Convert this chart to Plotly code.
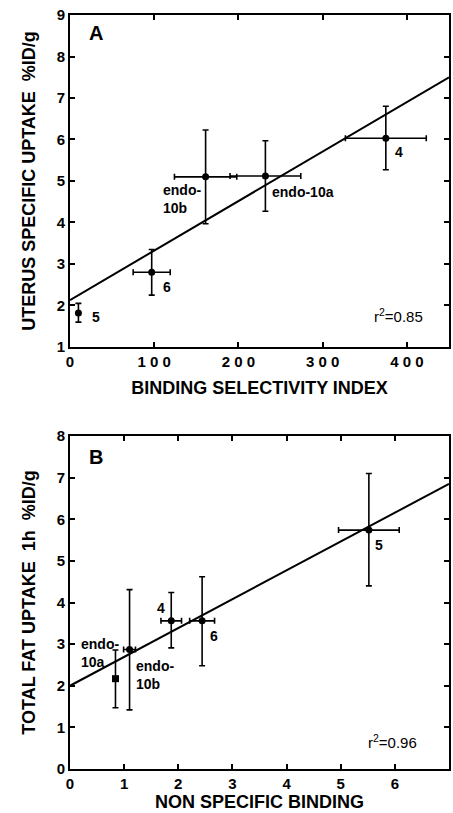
import plotly.graph_objects as go
from plotly.subplots import make_subplots

# ---- Panel A data ----
a_labels = ["5", "6", "endo-10b", "endo-10a", "4"]
a_x = [10, 97, 161, 232, 375]
a_y = [1.82, 2.80, 5.10, 5.12, 6.03]
a_x_err = [0, 22, 37, 42, 48]
a_y_plus = [0.23, 0.55, 1.13, 0.85, 0.77]
a_y_minus = [0.22, 0.55, 1.13, 0.85, 0.76]
a_line_x = [0, 450]
a_intercept, a_slope = 2.13, 0.01193
a_xticks = [0, 100, 200, 300, 400]
a_xticktext = ["0", "1 0 0", "2 0 0", "3 0 0", "4 0 0"]

# ---- Panel B data ----
b_labels = ["endo-10a", "endo-10b", "4", "6", "5"]
b_x = [0.84, 1.10, 1.87, 2.44, 5.52]
b_y = [2.17, 2.87, 3.56, 3.56, 5.74]
b_x_err = [0.0, 0.11, 0.19, 0.23, 0.56]
b_y_plus = [0.69, 1.44, 0.68, 1.06, 1.36]
b_y_minus = [0.70, 1.45, 0.65, 1.08, 1.34]
b_line_x = [0, 7]
b_intercept, b_slope = 2.0, 0.693

FONT = "Liberation Sans"

fig = make_subplots(rows=2, cols=1, vertical_spacing=0.118)

err_style = dict(type="data", color="black", thickness=1.6, width=3)

fig.add_trace(go.Scatter(
    x=a_line_x, y=[a_intercept + a_slope * v for v in a_line_x],
    mode="lines", line=dict(color="black", width=2), showlegend=False), row=1, col=1)
fig.add_trace(go.Scatter(
    x=a_x, y=a_y, mode="markers",
    marker=dict(color="black", size=7, symbol="circle"),
    error_x=dict(array=a_x_err, **err_style),
    error_y=dict(array=a_y_plus, arrayminus=a_y_minus, **err_style),
    showlegend=False), row=1, col=1)

fig.add_trace(go.Scatter(
    x=b_line_x, y=[b_intercept + b_slope * v for v in b_line_x],
    mode="lines", line=dict(color="black", width=2), showlegend=False), row=2, col=1)
fig.add_trace(go.Scatter(
    x=b_x, y=b_y, mode="markers",
    marker=dict(color="black", size=7,
                symbol=["square", "circle", "circle", "circle", "circle"]),
    error_x=dict(array=b_x_err, **err_style),
    error_y=dict(array=b_y_plus, arrayminus=b_y_minus, **err_style),
    showlegend=False), row=2, col=1)

axis_common = dict(showline=True, linecolor="black", linewidth=2, mirror="ticks",
                   ticks="inside", ticklen=5, tickwidth=1.5, tickcolor="black",
                   showgrid=False, zeroline=False,
                   tickfont=dict(family=FONT, size=15, color="black", weight="bold"),
                   title_font=dict(family=FONT, size=18, color="black", weight="bold"))

fig.update_xaxes(range=[0, 450], tickvals=a_xticks, ticktext=a_xticktext,
                 title_text="BINDING SELECTIVITY INDEX", title_standoff=12,
                 row=1, col=1, **axis_common)
fig.update_yaxes(range=[1, 9], dtick=1,
                 title_text="UTERUS SPECIFIC UPTAKE  %ID/g", title_standoff=16,
                 row=1, col=1, **axis_common)
fig.update_xaxes(range=[0, 7], dtick=1,
                 title_text="NON SPECIFIC BINDING", title_standoff=2,
                 row=2, col=1, **axis_common)
fig.update_yaxes(range=[0, 8], dtick=1,
                 title_text="TOTAL FAT UPTAKE  1h  %ID/g", title_standoff=16,
                 row=2, col=1, **axis_common)

lab = dict(family=FONT, size=14, color="black", weight="bold")
ann = []
# panel letters
ann.append(dict(text="A", x=0.045, y=0.985, xref="x domain", yref="y domain",
                showarrow=False, xanchor="left", yanchor="top",
                font=dict(family=FONT, size=20, color="black", weight="bold")))
ann.append(dict(text="B", x=0.045, y=0.975, xref="x2 domain", yref="y2 domain",
                showarrow=False, xanchor="left", yanchor="top",
                font=dict(family=FONT, size=20, color="black", weight="bold")))
# panel A point labels
ann += [
    dict(text="5", x=24, y=1.73, xref="x", yref="y", xanchor="left", yanchor="middle"),
    dict(text="6", x=108, y=2.45, xref="x", yref="y", xanchor="left", yanchor="middle"),
    dict(text="endo-<br>10b", x=108, y=4.57, xref="x", yref="y", xanchor="left", yanchor="middle", align="left"),
    dict(text="endo-10a", x=238, y=4.73, xref="x", yref="y", xanchor="left", yanchor="middle"),
    dict(text="4", x=383, y=5.70, xref="x", yref="y", xanchor="left", yanchor="middle"),
    dict(text="r<sup>2</sup>=0.85", x=359, y=1.75, xref="x", yref="y", xanchor="left", yanchor="middle",
         font=dict(family=FONT, size=15, color="black")),
]
# panel B point labels
ann += [
    dict(text="endo-<br>10a", x=0.17, y=2.79, xref="x2", yref="y2", xanchor="left", yanchor="middle", align="left"),
    dict(text="endo-<br>10b", x=1.18, y=2.25, xref="x2", yref="y2", xanchor="left", yanchor="middle", align="left"),
    dict(text="4", x=1.8, y=3.87, xref="x2", yref="y2", xanchor="right", yanchor="middle"),
    dict(text="6", x=2.54, y=3.2, xref="x2", yref="y2", xanchor="left", yanchor="middle"),
    dict(text="5", x=5.6, y=5.38, xref="x2", yref="y2", xanchor="left", yanchor="middle"),
    dict(text="r<sup>2</sup>=0.96", x=5.47, y=0.66, xref="x2", yref="y2", xanchor="left", yanchor="middle",
         font=dict(family=FONT, size=15, color="black")),
]
for a in ann:
    a.setdefault("showarrow", False)
    a.setdefault("font", lab)
fig.update_layout(annotations=ann)

fig.update_layout(
    width=453, height=813,
    margin=dict(l=70, r=2, t=15, b=44),
    paper_bgcolor="white", plot_bgcolor="white",
    font=dict(family=FONT, color="black"),
    showlegend=False,
)
fig.update_yaxes(domain=[0.5597, 1.0], row=1, col=1)
fig.update_yaxes(domain=[0.0, 0.4416], row=2, col=1)

fig.write_html("out.html", config={"displayModeBar": False},
               post_script="document.body.style.margin='0px';document.body.style.overflow='hidden';")
